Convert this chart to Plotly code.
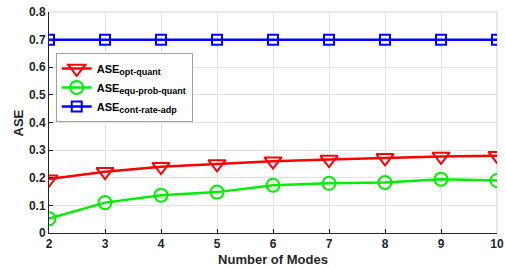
import plotly.graph_objects as go

modes = [2, 3, 4, 5, 6, 7, 8, 9, 10]
ase_opt_quant = [0.195, 0.222, 0.240, 0.250, 0.260, 0.266, 0.272, 0.277, 0.280]
ase_equ_prob_quant = [0.052, 0.110, 0.137, 0.148, 0.173, 0.180, 0.183, 0.195, 0.190]
ase_cont_rate_adp = [0.70, 0.70, 0.70, 0.70, 0.70, 0.70, 0.70, 0.70, 0.70]
x_ticks = [2, 3, 4, 5, 6, 7, 8, 9, 10]
y_ticks = [0, 0.1, 0.2, 0.3, 0.4, 0.5, 0.6, 0.7, 0.8]
y_tick_labels = ["0", "0.1", "0.2", "0.3", "0.4", "0.5", "0.6", "0.7", "0.8"]


def sub_name(main, sub):
    return f"{main}<sub><span style='font-size:9px'>{sub}</span></sub>"


fig = go.Figure()
fig.add_trace(go.Scatter(
    x=modes, y=ase_opt_quant, mode="lines+markers",
    name=sub_name("ASE", "opt-quant"),
    line=dict(color="#ff0000", width=2.5),
    marker=dict(symbol="triangle-down-open", size=15, color="#ff0000", line=dict(width=2, color="#ff0000")),
))
fig.add_trace(go.Scatter(
    x=modes, y=ase_equ_prob_quant, mode="lines+markers",
    name=sub_name("ASE", "equ-prob-quant"),
    line=dict(color="#00ee00", width=2.5),
    marker=dict(symbol="circle-open", size=13, color="#00ee00", line=dict(width=2, color="#00ee00")),
))
fig.add_trace(go.Scatter(
    x=modes, y=ase_cont_rate_adp, mode="lines+markers",
    name=sub_name("ASE", "cont-rate-adp"),
    line=dict(color="#0000ff", width=2.5),
    marker=dict(symbol="square-open", size=10, color="#0000ff", line=dict(width=2, color="#0000ff")),
))

font_family = "Liberation Sans, Arial, sans-serif"
fig.update_layout(
    width=506, height=269,
    margin=dict(l=49, r=9, t=12, b=36, autoexpand=False),
    paper_bgcolor="white", plot_bgcolor="white",
    font=dict(family=font_family, size=12, color="#262626"),
    showlegend=True,
    legend=dict(
        x=0.015, y=0.815, xanchor="left", yanchor="top",
        bgcolor="white", bordercolor="#a0a0a0", borderwidth=1,
        font=dict(family=font_family, size=11, color="#000000", weight="bold"),
        tracegroupgap=0, itemwidth=30,
    ),
    xaxis=dict(
        range=[2, 10], tickvals=x_ticks, ticktext=[str(v) for v in x_ticks],
        automargin=False,
        showgrid=True, gridcolor="#e3e3e3", gridwidth=1,
        showline=True, linecolor="#262626", linewidth=1,
        ticks="inside", ticklen=4, tickcolor="#262626",
        tickfont=dict(size=12, weight="bold", color="#262626"),
        title=dict(text="Number of Modes", font=dict(size=13, weight="bold", color="#262626"), standoff=4),
        zeroline=False,
    ),
    yaxis=dict(
        range=[0, 0.8], tickvals=y_ticks, ticktext=y_tick_labels,
        automargin=False,
        showgrid=True, gridcolor="#e3e3e3", gridwidth=1,
        showline=True, linecolor="#262626", linewidth=1,
        ticks="inside", ticklen=4, tickcolor="#262626",
        tickfont=dict(size=12, weight="bold", color="#262626"),
        zeroline=False,
    ),
    annotations=[dict(
        text="ASE", xref="paper", yref="paper", x=-0.067, y=0.5,
        xanchor="center", yanchor="middle", textangle=-90, showarrow=False,
        font=dict(family=font_family, size=13, weight="bold", color="#262626"),
    )],
)
fig.add_shape(type="line", xref="paper", yref="paper", x0=0, x1=1, y0=1, y1=1,
              line=dict(color="#d0d0d0", width=1), layer="below")
fig.add_shape(type="line", xref="paper", yref="paper", x0=1, x1=1, y0=0, y1=1,
              line=dict(color="#d0d0d0", width=1), layer="below")

fig.write_html("out.html", config={"displayModeBar": False},
               post_script="document.body.style.margin='0';document.body.style.overflow='hidden';")
